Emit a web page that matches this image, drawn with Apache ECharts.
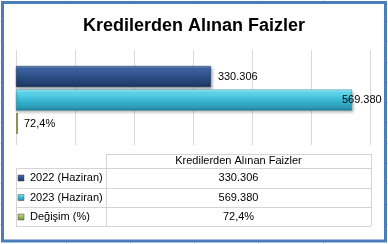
<!DOCTYPE html>
<html><head><meta charset="utf-8">
<script src="https://cdn.jsdelivr.net/npm/echarts@6/dist/echarts.min.js"></script>
<style>html,body{margin:0;padding:0;background:#fff}#c{width:388px;height:244px}</style>
</head><body><div id="c"></div>
<script>
const title = 'Kredilerden Alınan Faizler';
const categories = ['Kredilerden Alınan Faizler'];
const seriesNames = ['2022 (Haziran)', '2023 (Haziran)', 'Değişim (%)'];
const values2022 = [330306];
const values2023 = [569380];
const valuesChange = [72.4];
const axisMin = 0, axisMax = 600000, axisInterval = 100000;

const fmtThousands = v => String(v).replace(/\B(?=(\d{3})+(?!\d))/g, '.');
const fmtPct = v => String(v).replace('.', ',') + '%';

const grad = (stops) => new echarts.graphic.LinearGradient(0, 0, 0, 1, stops.map((c, i) => ({offset: c[0], color: c[1]})));
const blueGrad = grad([[0,'#6a8fc8'],[0.12,'#3f66a4'],[0.5,'#2c4f87'],[0.85,'#213f6e'],[1,'#172f55']]);
const cyanGrad = grad([[0,'#a8f4fc'],[0.14,'#62dbef'],[0.5,'#3ab8d3'],[0.85,'#2c9bb6'],[1,'#1f7a92']]);
const greenColor = '#86965a';

const chart = echarts.init(document.getElementById('c'), null, {renderer: 'canvas'});

// table geometry
const tL = 16, tM = 106, tR = 371, tTop = 154, rowLines = [168, 188, 207, 226];
const lineColor = '#d4d4d4';
const g = [];
// spreadsheet gridlines outside the frame
[66,130,194,258,323].forEach(x => g.push({type:'line', z:-20, shape:{x1:x+0.5,y1:0,x2:x+0.5,y2:244}, style:{stroke:'#dadada', lineWidth:1}}));
[21,41,62,82,102,122,143,163,183,204,224].forEach(y => g.push({type:'line', z:-20, shape:{x1:0,y1:y+0.5,x2:388,y2:y+0.5}, style:{stroke:'#dadada', lineWidth:1}}));
// frame fill
g.push({type:'rect', z:-10, shape:{x:2.5,y:2.5,width:383,height:238.5}, style:{fill:'#fff', stroke:'#4a7ebb', lineWidth:3}});
// table lines
const hl = (x1,x2,y) => g.push({type:'line', z:5, shape:{x1:x1,y1:y+0.5,x2:x2,y2:y+0.5}, style:{stroke:lineColor, lineWidth:1}});
const vl = (x,y1,y2) => g.push({type:'line', z:5, shape:{x1:x+0.5,y1:y1,x2:x+0.5,y2:y2}, style:{stroke:lineColor, lineWidth:1}});
hl(tM, tR, tTop);
rowLines.forEach(y => hl(tL, tR, y));
vl(tL, rowLines[0], rowLines[3]);
vl(tM, tTop, rowLines[3]);
vl(tR, tTop, rowLines[3]);
const txtStyle = {font: '11px "Liberation Sans", Arial, sans-serif', fill: '#000'};
g.push({type:'text', z:6, x:(tM+tR)/2, y:161, style:Object.assign({text: categories[0], align:'center', verticalAlign:'middle'}, txtStyle)});
const rowVals = [fmtThousands(values2022[0]), fmtThousands(values2023[0]), fmtPct(valuesChange[0])];
const keyFills = [blueGrad, cyanGrad, grad([[0,'#c5dc7e'],[0.5,'#9bbb59'],[1,'#76923c']])];
const rowCenters = [178, 197.5, 217];
seriesNames.forEach((n, i) => {
  const cy = rowCenters[i];
  g.push({type:'rect', z:6, shape:{x:18, y:cy-3, width:6, height:6}, style:{fill:keyFills[i], stroke:'#4a4a4a', lineWidth:0.5}});
  g.push({type:'text', z:6, x:30, y:cy, style:Object.assign({text:n, align:'left', verticalAlign:'middle'}, txtStyle)});
  g.push({type:'text', z:6, x:(tM+tR)/2, y:cy, style:Object.assign({text:rowVals[i], align:'center', verticalAlign:'middle'}, txtStyle)});
});

const labelBase = {show:true, position:'right', color:'#000', fontSize:11, fontFamily:'"Liberation Sans", Arial, sans-serif'};
const barShadow = {shadowColor:'rgba(0,0,0,0.35)', shadowBlur:3, shadowOffsetY:2, shadowOffsetX:1};

chart.setOption({
  animation: false,
  title: {text: title, left: 'center', top: 12, textStyle: {fontFamily: '"Liberation Sans", Arial, sans-serif', fontWeight: 'bold', fontSize: 18, color: '#000'}},
  grid: [
    {left: 16, width: 354, top: 50, height: 95, containLabel: false},
    {left: 16, width: 354, top: 53, height: 94, containLabel: false}
  ],
  xAxis: [
    {gridIndex:0, type:'value', min:axisMin, max:axisMax, interval:axisInterval, axisLabel:{show:false}, axisLine:{show:false}, axisTick:{show:false}, splitLine:{show:true, lineStyle:{color:'#d9d9d9', width:1}}},
    {gridIndex:1, type:'value', min:axisMin, max:axisMax, interval:axisInterval, show:false, splitLine:{show:false}}
  ],
  yAxis: [
    {gridIndex:0, type:'category', data:categories, show:false},
    {gridIndex:1, type:'category', data:categories, show:false, inverse:true}
  ],
  graphic: g,
  series: [
    {name: seriesNames[0], type:'bar', xAxisIndex:1, yAxisIndex:1, data: values2022, barWidth:21, barGap:'12%',
     itemStyle: Object.assign({color: blueGrad, borderColor:'#1a3358', borderWidth:0.5}, barShadow),
     label: Object.assign({}, labelBase, {distance:7, formatter: p => fmtThousands(p.value)})},
    {name: seriesNames[1], type:'bar', xAxisIndex:1, yAxisIndex:1, data: values2023, barWidth:21,
     itemStyle: Object.assign({color: cyanGrad, borderColor:'#2a8aa3', borderWidth:0.5}, barShadow),
     label: Object.assign({}, labelBase, {distance:5, offset:[-15,0], formatter: p => fmtThousands(p.value)})},
    {name: seriesNames[2], type:'bar', xAxisIndex:1, yAxisIndex:1, data: valuesChange, barWidth:21, barMinHeight:2,
     itemStyle: {color: greenColor},
     label: Object.assign({}, labelBase, {distance:6, formatter: p => fmtPct(p.value)})}
  ]
});
</script></body></html>
